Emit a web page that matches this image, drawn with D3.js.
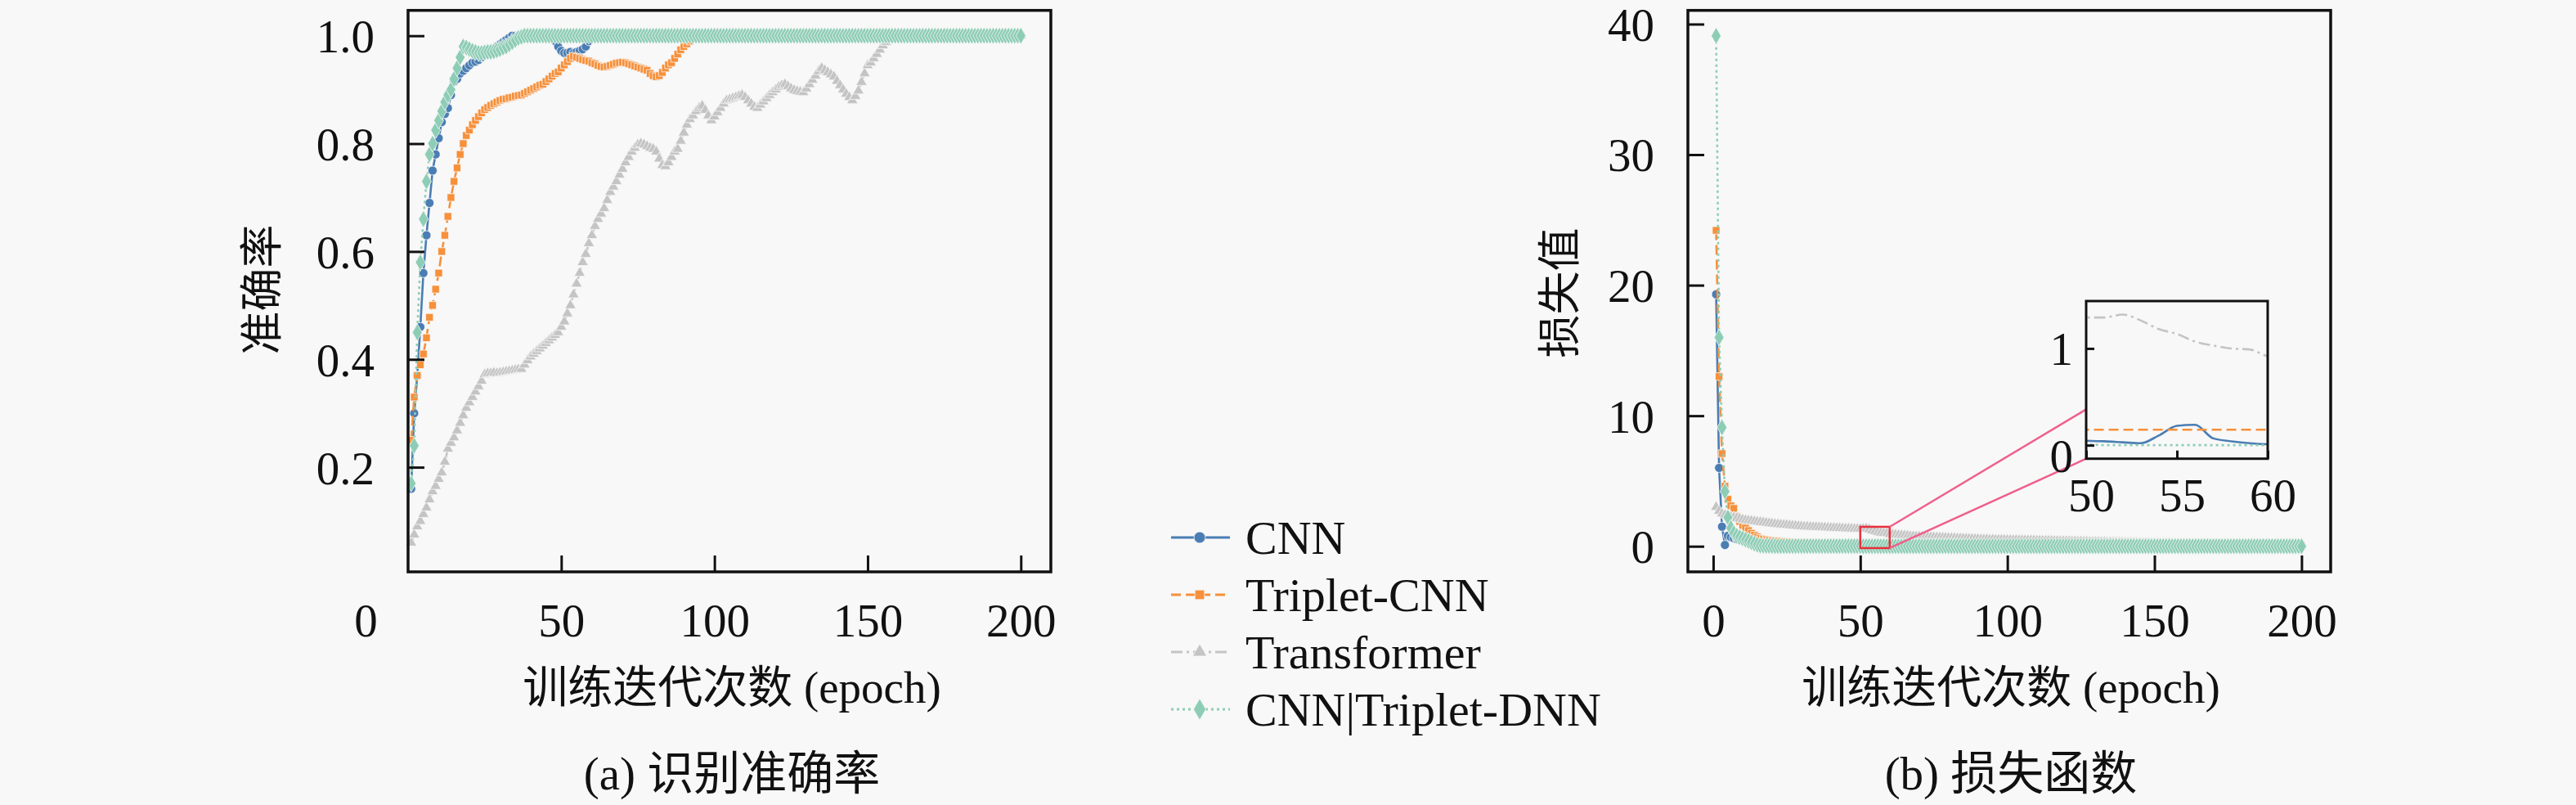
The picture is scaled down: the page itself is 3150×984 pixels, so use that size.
<!DOCTYPE html>
<html>
<head>
<meta charset="utf-8"/>
<script src="https://cdnjs.cloudflare.com/ajax/libs/d3/7.8.5/d3.min.js"></script>
<style>
body { margin: 0; background: #f8f8f8; }
text { font-family: "Liberation Serif", "Noto Sans CJK SC", serif; fill: #111; }
</style>
</head>
<body>
<script>
const W = 3150, H = 984;

const seriesNames = ['CNN', 'Triplet-CNN', 'Transformer', 'CNN|Triplet-DNN'];

// accuracy per epoch (1..200)
const accCNN = [
  .16,.30,.37,.46,.56,.63,.69,.75,.78,.81,
  .84,.855,.866,.89,.915,.92,.93,.935,.94,.945,
  .95,.952,.955,.96,.965,.968,.972,.976,.98,.984,
  .988,.992,.996,1,1,1,1,1,1,1,
  1,1,1,1,1,1,1,.99,.98,.972,
  .968,.968,.97,.968,.97,.972,.975,.98,.99,1,
  1,1,1,1,1,1,1,1,1,1, 1,1,1,1,1,1,1,1,1,1,
  1,1,1,1,1,1,1,1,1,1, 1,1,1,1,1,1,1,1,1,1,
  1,1,1,1,1,1,1,1,1,1, 1,1,1,1,1,1,1,1,1,1,
  1,1,1,1,1,1,1,1,1,1, 1,1,1,1,1,1,1,1,1,1,
  1,1,1,1,1,1,1,1,1,1, 1,1,1,1,1,1,1,1,1,1,
  1,1,1,1,1,1,1,1,1,1, 1,1,1,1,1,1,1,1,1,1,
  1,1,1,1,1,1,1,1,1,1, 1,1,1,1,1,1,1,1,1,1
];
const accTriplet = [
  .25,.33,.37,.39,.41,.44,.478,.5,.53,.56,
  .6,.63,.665,.7,.73,.755,.78,.8,.815,.825,
  .835,.843,.85,.857,.863,.867,.871,.874,.877,.88,
  .882,.883,.885,.886,.888,.889,.89,.893,.896,.899,
  .902,.905,.908,.91,.915,.92,.925,.93,.933,.94,
  .946,.952,.958,.962,.96,.958,.956,.954,.953,.95,
  .948,.945,.943,.942,.943,.945,.947,.949,.95,.951,
  .95,.948,.946,.944,.942,.94,.938,.936,.93,.926,
  .924,.926,.932,.94,.946,.95,.958,.966,.974,.98,
  .985,.99,.995,1,1,1,1,1,1,1,
  1,1,1,1,1,1,1,1,1,1, 1,1,1,1,1,1,1,1,1,1,
  1,1,1,1,1,1,1,1,1,1, 1,1,1,1,1,1,1,1,1,1,
  1,1,1,1,1,1,1,1,1,1, 1,1,1,1,1,1,1,1,1,1,
  1,1,1,1,1,1,1,1,1,1, 1,1,1,1,1,1,1,1,1,1,
  1,1,1,1,1,1,1,1,1,1, 1,1,1,1,1,1,1,1,1,1
];
const accTransformer = [
  .06,.075,.09,.1,.113,.125,.14,.155,.165,.178,
  .19,.21,.234,.245,.255,.268,.282,.296,.31,.32,
  .33,.34,.35,.36,.372,.374,.374,.375,.374,.375,
  .376,.377,.378,.379,.38,.381,.382,.39,.398,.405,
  .41,.415,.42,.425,.43,.435,.44,.445,.45,.46,
  .47,.485,.5,.52,.54,.56,.58,.595,.615,.63,
  .647,.66,.67,.68,.695,.71,.72,.73,.742,.753,
  .765,.775,.785,.792,.798,.8,.798,.795,.792,.79,
  .785,.772,.76,.758,.765,.775,.785,.79,.805,.82,
  .835,.845,.852,.86,.866,.87,.862,.852,.843,.85,
  .858,.866,.874,.88,.882,.884,.886,.888,.89,.886,
  .88,.874,.868,.866,.872,.878,.884,.89,.895,.9,
  .905,.908,.91,.906,.902,.899,.897,.896,.895,.902,
  .91,.918,.926,.934,.94,.936,.932,.928,.924,.916,
  .908,.9,.892,.886,.88,.888,.898,.914,.93,.945,
  .95,.958,.966,.974,.982,.988,.994,1,1,1,
  1,1,1,1,1,1,1,1,1,1, 1,1,1,1,1,1,1,1,1,1,
  1,1,1,1,1,1,1,1,1,1, 1,1,1,1,1,1,1,1,1,1
];
const accFusion = [
  .17,.24,.45,.58,.66,.73,.78,.8,.825,.843,
  .86,.877,.89,.9,.92,.94,.96,.98,.978,.975,
  .972,.97,.968,.968,.969,.97,.97,.971,.973,.975,
  .978,.98,.984,.988,.992,.996,.998,1,1,1,
  1,1,1,1,1,1,1,1,1,1, 1,1,1,1,1,1,1,1,1,1,
  1,1,1,1,1,1,1,1,1,1, 1,1,1,1,1,1,1,1,1,1,
  1,1,1,1,1,1,1,1,1,1, 1,1,1,1,1,1,1,1,1,1,
  1,1,1,1,1,1,1,1,1,1, 1,1,1,1,1,1,1,1,1,1,
  1,1,1,1,1,1,1,1,1,1, 1,1,1,1,1,1,1,1,1,1,
  1,1,1,1,1,1,1,1,1,1, 1,1,1,1,1,1,1,1,1,1,
  1,1,1,1,1,1,1,1,1,1, 1,1,1,1,1,1,1,1,1,1,
  1,1,1,1,1,1,1,1,1,1, 1,1,1,1,1,1,1,1,1,1
];

// loss per epoch (1..200)
const lossCNN = [
  19.3,6.0,1.5,.1,.8,.7,.62,.56,.5,.46,
  .42,.39,.36,.34,.32,.3,.28,.27,.26,.25,
  .24,.23,.22,.21,.2,.19,.18,.17,.16,.15,
  .14,.13,.12,.12,.11,.11,.1,.1,.09,.09,
  .08,.08,.07,.07,.06,.06,.06,.05,.05,.046,
  .04,.03,.02,.1,.2,.21,.07,.04,.02,.01,
  .02,.02,.02,.03,.02,.02,.02,.02,.01,.01,
  .01,.02,.02,.01,.01,.02,.01,.01,.01,.02,
  .02,.01,.01,.01,.02,.01,.01,.01,.01,.01,
  .01,.01,.02,.01,.01,.01,.01,.01,.01,.01,
  .01,.01,.01,.01,.01,.01,.01,.01,.01,.01,
  .01,.01,.01,.01,.01,.01,.01,.01,.01,.01,
  .01,.01,.01,.01,.01,.01,.01,.01,.01,.01,
  .01,.01,.01,.01,.01,.01,.01,.01,.01,.01,
  .01,.01,.01,.01,.01,.01,.01,.01,.01,.01,
  .01,.01,.01,.01,.01,.01,.01,.01,.01,.01,
  .01,.01,.01,.01,.01,.01,.01,.01,.01,.01,
  .01,.01,.01,.01,.01,.01,.01,.01,.01,.01,
  .01,.01,.01,.01,.01,.01,.01,.01,.01,.01,
  .01,.01,.01,.01,.01,.01,.01,.01,.01,.01
];
const lossTriplet = [
  24.2,13,7.1,4.6,3.6,3.1,2.9,2.3,1.9,1.6,
  1.4,1.2,1,.85,.72,.6,.55,.5,.47,.44,
  .42,.4,.38,.36,.34,.32,.31,.3,.29,.28,
  .27,.26,.25,.24,.23,.22,.21,.2,.2,.19,
  .19,.18,.18,.18,.17,.17,.17,.17,.16,.16,
  .16,.16,.16,.16,.16,.16,.16,.16,.16,.16,
  .16,.15,.15,.15,.15,.14,.14,.14,.14,.13,
  .13,.13,.13,.12,.12,.12,.12,.12,.11,.11,
  .11,.11,.11,.11,.1,.1,.1,.1,.1,.1,
  .1,.1,.09,.09,.09,.09,.09,.09,.09,.09,
  .08,.08,.08,.08,.08,.08,.08,.08,.08,.08,
  .08,.08,.08,.08,.07,.07,.07,.07,.07,.07,
  .07,.07,.07,.07,.07,.07,.07,.07,.07,.07,
  .07,.07,.06,.06,.06,.06,.06,.06,.06,.06,
  .06,.06,.06,.06,.06,.06,.06,.06,.06,.06,
  .06,.06,.06,.06,.06,.06,.06,.06,.05,.05,
  .05,.05,.05,.05,.05,.05,.05,.05,.05,.05,
  .05,.05,.05,.05,.05,.05,.05,.05,.05,.05,
  .05,.05,.05,.05,.05,.05,.05,.05,.05,.05,
  .05,.05,.05,.05,.05,.05,.05,.05,.05,.05
];
const lossTransformer = [
  3,2.7,2.5,2.4,2.3,2.25,2.2,2.15,2.1,2.05,
  2,1.97,1.94,1.91,1.88,1.85,1.82,1.79,1.76,1.73,
  1.7,1.68,1.66,1.64,1.62,1.6,1.58,1.56,1.54,1.52,
  1.5,1.49,1.48,1.47,1.46,1.45,1.44,1.43,1.42,1.41,
  1.4,1.39,1.38,1.37,1.36,1.35,1.34,1.33,1.33,1.32,
  1.32,1.35,1.29,1.2,1.15,1.07,1.03,1,.99,.92,
  .9,.88,.86,.84,.82,.8,.78,.76,.75,.74,
  .73,.72,.71,.7,.69,.68,.67,.66,.65,.64,
  .63,.62,.61,.6,.59,.58,.57,.56,.55,.54,
  .53,.52,.52,.51,.51,.5,.5,.49,.49,.48,
  .48,.47,.47,.46,.46,.45,.45,.44,.44,.43,
  .43,.42,.42,.41,.41,.4,.4,.39,.39,.38,
  .38,.37,.37,.36,.36,.35,.35,.34,.34,.33,
  .33,.32,.32,.31,.31,.3,.3,.29,.29,.28,
  .28,.27,.27,.26,.26,.25,.25,.24,.24,.23,
  .23,.23,.22,.22,.22,.21,.21,.21,.2,.2,
  .2,.2,.2,.19,.19,.19,.19,.18,.18,.18,
  .18,.18,.17,.17,.17,.17,.17,.17,.16,.16,
  .16,.16,.16,.16,.16,.16,.15,.15,.15,.15,
  .15,.15,.15,.15,.15,.15,.15,.15,.15,.15
];
const lossFusion = [
  39.1,16,9.1,4.2,2.2,1.4,1,.8,.7,.6,
  .5,.4,.3,.2,.12,.06,.04,.03,.02,.02,
  .01,.01,.01,.01,.01,.01,.01,.01,.01,.01,
  .01,.01,.01,.01,.01,.01,.01,.01,.01,.01,
  .01,.01,.01,.01,.01,.01,.01,.01,.01,.01,
  0,0,0,0,0,0,0,0,0,0, 0,0,0,0,0,0,0,0,0,0,
  0,0,0,0,0,0,0,0,0,0, 0,0,0,0,0,0,0,0,0,0,
  0,0,0,0,0,0,0,0,0,0, 0,0,0,0,0,0,0,0,0,0,
  0,0,0,0,0,0,0,0,0,0, 0,0,0,0,0,0,0,0,0,0,
  0,0,0,0,0,0,0,0,0,0, 0,0,0,0,0,0,0,0,0,0,
  0,0,0,0,0,0,0,0,0,0, 0,0,0,0,0,0,0,0,0,0,
  0,0,0,0,0,0,0,0,0,0, 0,0,0,0,0,0,0,0,0,0,
  0,0,0,0,0,0,0,0,0,0
];

const accTicks = [0.2, 0.4, 0.6, 0.8, 1.0];
const lossTicks = [0, 10, 20, 30, 40];
const epochTicks = [0, 50, 100, 150, 200];
const insetXTicks = [50, 55, 60];
const insetYTicks = [0, 1];
const zoomBox = {x0: 50, x1: 60, y0: -0.14, y1: 1.49};

const colors = ['#4a7db3', '#f7903a', '#c4c4c4', '#8dcdb5'];
const dashes = [null, '12,6', '14,5,3,5', '3,4'];
const symbols = [d3.symbolCircle, d3.symbolSquare, d3.symbolTriangle, d3.symbolDiamond];
const symSize = [95, 85, 80, 125];
const bg = '#f8f8f8';
const ink = '#111';

const svg = d3.select('body').append('svg').attr('width', W).attr('height', H);

function drawSeries(g, x, y, data, withMarkers) {
  data.forEach((vals, s) => {
    const pts = vals.map((v, i) => [i + 1, v]);
    const gs = g.append('g');
    gs.append('path')
      .attr('d', d3.line().x(d => x(d[0])).y(d => y(d[1]))(pts))
      .attr('fill', 'none')
      .attr('stroke', colors[s])
      .attr('stroke-width', 2.6)
      .attr('stroke-dasharray', dashes[s]);
    if (withMarkers) {
      gs.selectAll('path.m').data(pts).enter().append('path')
        .attr('class', 'm')
        .attr('d', d3.symbol().type(symbols[s]).size(symSize[s]))
        .attr('transform', d => `translate(${x(d[0])},${y(d[1])})`)
        .attr('fill', colors[s])
        .attr('stroke', bg)
        .attr('stroke-width', 0.8);
    }
  });
}

function styleAxis(g, fs) {
  g.select('.domain').remove();
  g.selectAll('.tick line').attr('stroke', ink).attr('stroke-width', 3);
  g.selectAll('.tick text').attr('font-size', fs);
}

function frame(x0, x1, y0, y1, sw) {
  svg.append('rect').attr('x', x0).attr('y', y0).attr('width', x1 - x0).attr('height', y1 - y0)
    .attr('fill', 'none').attr('stroke', ink).attr('stroke-width', sw);
}

// ---------- panel (a) accuracy ----------
const xA = d3.scaleLinear().domain([0, 209.8]).range([499, 1285]);
const yA = d3.scaleLinear().domain([0.006, 1.047]).range([699, 12.7]);

drawSeries(svg.append('g'), xA, yA, [accCNN, accTriplet, accTransformer, accFusion], true);

const axA = svg.append('g').attr('transform', 'translate(0,699)')
  .call(d3.axisBottom(xA).tickValues(epochTicks).tickSize(-20).tickFormat(d3.format('d')));
styleAxis(axA, 57);
axA.selectAll('.tick text').attr('y', 59).attr('dy', '0.35em');
axA.selectAll('.tick').filter(d => d === 0).select('text').attr('x', -52);
axA.selectAll('.tick').filter(d => d === 0).select('line').remove();

const ayA = svg.append('g').attr('transform', 'translate(499,0)')
  .call(d3.axisLeft(yA).tickValues(accTicks).tickSize(-20).tickPadding(41).tickFormat(d3.format('.1f')));
styleAxis(ayA, 57);
ayA.selectAll('.tick text').attr('dy', '0.35em');
frame(499, 1285, 12.7, 699, 3.5);

svg.append('text').attr('transform', 'translate(321,354) rotate(-90)')
  .attr('text-anchor', 'middle').attr('dominant-baseline', 'central').attr('font-size', 53)
  .text('准确率');
svg.append('text').attr('x', 895).attr('y', 840).attr('text-anchor', 'middle')
  .attr('dominant-baseline', 'central').attr('font-size', 55).text('训练迭代次数 (epoch)');
svg.append('text').attr('x', 895).attr('y', 945).attr('text-anchor', 'middle')
  .attr('dominant-baseline', 'central').attr('font-size', 57).text('(a) 识别准确率');

// ---------- panel (b) loss ----------
const xB = d3.scaleLinear().domain([-8.6, 209.9]).range([2064, 2850]);
const yB = d3.scaleLinear().domain([-1.96, 41.05]).range([699, 12.7]);

drawSeries(svg.append('g'), xB, yB, [lossCNN, lossTriplet, lossTransformer, lossFusion], true);

const axB = svg.append('g').attr('transform', 'translate(0,699)')
  .call(d3.axisBottom(xB).tickValues(epochTicks).tickSize(-20).tickFormat(d3.format('d')));
styleAxis(axB, 57);
axB.selectAll('.tick text').attr('y', 59).attr('dy', '0.35em');

const ayB = svg.append('g').attr('transform', 'translate(2064,0)')
  .call(d3.axisLeft(yB).tickValues(lossTicks).tickSize(-20).tickPadding(41).tickFormat(d3.format('d')));
styleAxis(ayB, 57);
ayB.selectAll('.tick text').attr('dy', '0.35em');
frame(2064, 2850, 12.7, 699, 3.5);

svg.append('text').attr('transform', 'translate(1908,358) rotate(-90)')
  .attr('text-anchor', 'middle').attr('dominant-baseline', 'central').attr('font-size', 53)
  .text('损失值');
svg.append('text').attr('x', 2459).attr('y', 840).attr('text-anchor', 'middle')
  .attr('dominant-baseline', 'central').attr('font-size', 55).text('训练迭代次数 (epoch)');
svg.append('text').attr('x', 2459).attr('y', 945).attr('text-anchor', 'middle')
  .attr('dominant-baseline', 'central').attr('font-size', 57).text('(b) 损失函数');

// ---------- inset ----------
const xI = d3.scaleLinear().domain([zoomBox.x0, zoomBox.x1]).range([2551, 2773]);
const yI = d3.scaleLinear().domain([zoomBox.y0, zoomBox.y1]).range([560.7, 368]);

// zoom rectangle on main axes and connectors
svg.append('rect')
  .attr('x', xB(zoomBox.x0)).attr('y', yB(zoomBox.y1))
  .attr('width', xB(zoomBox.x1) - xB(zoomBox.x0)).attr('height', yB(zoomBox.y0) - yB(zoomBox.y1))
  .attr('fill', 'none').attr('stroke', '#e8303c').attr('stroke-width', 2.5);
svg.append('line')
  .attr('x1', xB(zoomBox.x1)).attr('y1', yB(zoomBox.y1))
  .attr('x2', xI(zoomBox.x0)).attr('y2', yI(0.37))
  .attr('stroke', '#ef5f8a').attr('stroke-width', 2.5);
svg.append('line')
  .attr('x1', xB(zoomBox.x1)).attr('y1', yB(zoomBox.y0))
  .attr('x2', xI(zoomBox.x0)).attr('y2', yI(zoomBox.y0))
  .attr('stroke', '#ef5f8a').attr('stroke-width', 2.5);

svg.append('rect').attr('x', 2551).attr('y', 368).attr('width', 222).attr('height', 192.7).attr('fill', bg);
svg.append('clipPath').attr('id', 'insetClip').append('rect')
  .attr('x', 2551).attr('y', 368).attr('width', 222).attr('height', 192.7);
const gi = svg.append('g').attr('clip-path', 'url(#insetClip)');
[lossCNN, lossTriplet, lossTransformer, lossFusion].forEach((vals, s) => {
  const pts = vals.map((v, i) => [i + 1, v]).filter(d => d[0] >= 48 && d[0] <= 62);
  gi.append('path')
    .attr('d', d3.line().curve(d3.curveMonotoneX).x(d => xI(d[0])).y(d => yI(d[1]))(pts))
    .attr('fill', 'none').attr('stroke', colors[s]).attr('stroke-width', 2.6)
    .attr('stroke-dasharray', dashes[s]);
});

const axI = svg.append('g').attr('transform', 'translate(0,560.7)')
  .call(d3.axisBottom(xI).tickValues(insetXTicks).tickSize(-10).tickFormat(d3.format('d')));
styleAxis(axI, 57);
axI.selectAll('.tick text').attr('y', 44).attr('x', 6).attr('dy', '0.35em');
const ayI = svg.append('g').attr('transform', 'translate(2551,0)')
  .call(d3.axisLeft(yI).tickValues(insetYTicks).tickSize(-10).tickPadding(16).tickFormat(d3.format('d')));
styleAxis(ayI, 57);
ayI.selectAll('.tick text').attr('dy', '0.35em');
ayI.selectAll('.tick').filter(d => d === 0).select('text').attr('y', 12);
frame(2551, 2773, 368, 560.7, 3);

// ---------- legend ----------
const lg = svg.append('g');
seriesNames.forEach((name, s) => {
  const cy = 657 + s * 70;
  lg.append('line').attr('x1', 1432).attr('x2', 1504).attr('y1', cy).attr('y2', cy)
    .attr('stroke', colors[s]).attr('stroke-width', 3).attr('stroke-dasharray', dashes[s]);
  lg.append('path').attr('d', d3.symbol().type(symbols[s]).size(symSize[s] * 1.6))
    .attr('transform', `translate(1467,${cy})`)
    .attr('fill', colors[s]).attr('stroke', bg).attr('stroke-width', 0.8);
  lg.append('text').attr('x', 1523).attr('y', cy).attr('dominant-baseline', 'central')
    .attr('font-size', 58).text(name);
});
</script>
</body>
</html>
